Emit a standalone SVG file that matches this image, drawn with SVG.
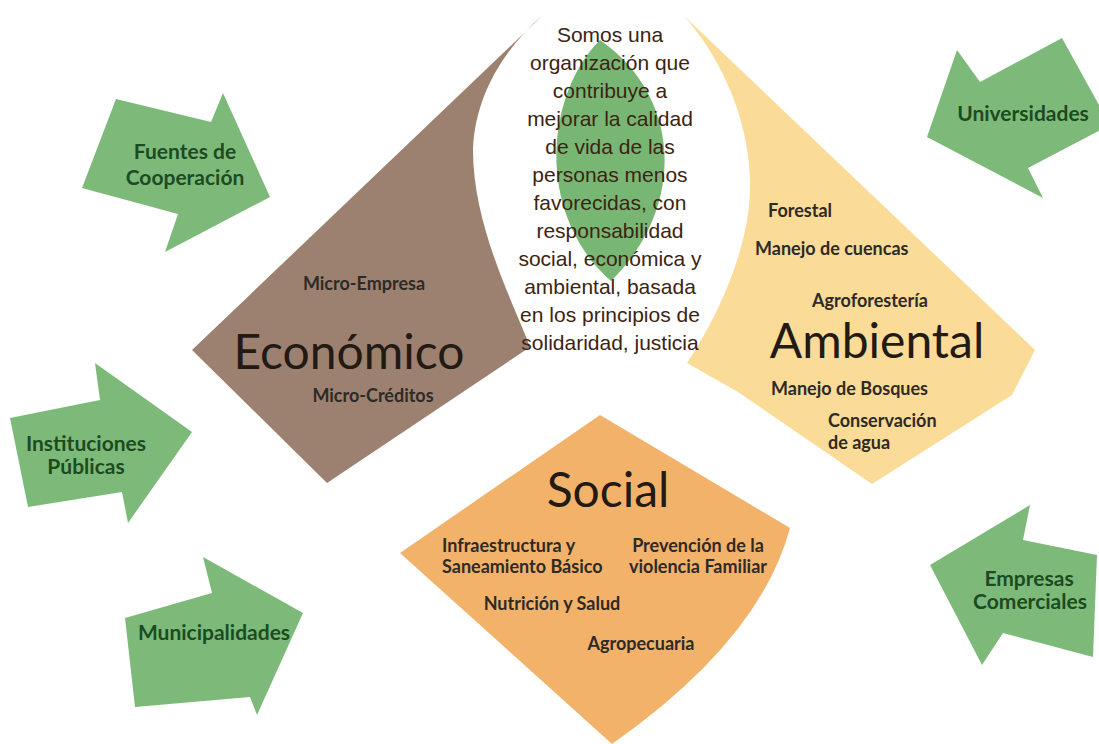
<svg xmlns="http://www.w3.org/2000/svg" width="1099" height="744" viewBox="0 0 1099 744">
<style>
.arrow{fill:#7DBA7A}
.alab{font-family:Lato,"Liberation Sans",sans-serif;font-weight:bold;font-size:21px;fill:#1D4B21;text-anchor:middle}
.item{font-family:Lato,"Liberation Sans",sans-serif;font-weight:bold;font-size:18px;fill:#2E2A26}
.title{font-family:Lato,"Liberation Sans",sans-serif;font-size:48px;fill:#231A14;text-anchor:middle}
.center{font-family:"Liberation Sans",Arial,sans-serif;font-size:21px;fill:#3C2412;text-anchor:middle}
</style>
<rect width="1099" height="744" fill="#FFFFFF"/>
<g id="economico">
<path d="M543,15 L192,350 L327,483 L530,347 C512,300 473,225 473,150 C475,92 508,45 543,15 Z" fill="#9D8170"/>
<text class="item" x="364" y="290" text-anchor="middle">Micro-Empresa</text>
<text class="title" x="349" y="369">Económico</text>
<text class="item" x="373" y="402" text-anchor="middle">Micro-Créditos</text>
</g>
<g id="ambiental">
<path d="M683,15 L1035,350 L1012,395 L872,484 L738,392 L687,363 C722,310 752,240 750,180 C748,110 715,50 683,15 Z" fill="#FADB98"/>
<text class="item" x="768" y="217">Forestal</text>
<text class="item" x="755" y="255">Manejo de cuencas</text>
<text class="item" x="870" y="307" text-anchor="middle">Agroforestería</text>
<text class="title" x="877" y="358">Ambiental</text>
<text class="item" x="771" y="395">Manejo de Bosques</text>
<text class="item" x="828" y="427">Conservación</text>
<text class="item" x="828" y="449">de agua</text>
</g>
<g id="social">
<path d="M600,415 L790,528 Q760,640 612,744 L400,553 Z" fill="#F3B26A"/>
<text class="title" x="608" y="507">Social</text>
<text class="item" x="442" y="552">Infraestructura y</text>
<text class="item" x="442" y="573">Saneamiento Básico</text>
<text class="item" x="698" y="552" text-anchor="middle">Prevención de la</text>
<text class="item" x="698" y="573" text-anchor="middle">violencia Familiar</text>
<text class="item" x="552" y="610" text-anchor="middle">Nutrición y Salud</text>
<text class="item" x="641" y="650" text-anchor="middle">Agropecuaria</text>
</g>
<g id="mision">
<path d="M600,40 C545,95 535,215 611,281 C688,205 680,95 600,40 Z" fill="#78B674"/>
<text class="center" x="610" y="42">Somos una</text>
<text class="center" x="610" y="70">organización que</text>
<text class="center" x="610" y="98">contribuye a</text>
<text class="center" x="610" y="126">mejorar la calidad</text>
<text class="center" x="610" y="154">de vida de las</text>
<text class="center" x="610" y="182">personas menos</text>
<text class="center" x="610" y="210">favorecidas, con</text>
<text class="center" x="610" y="238">responsabilidad</text>
<text class="center" x="610" y="266">social, económica y</text>
<text class="center" x="610" y="294">ambiental, basada</text>
<text class="center" x="610" y="322">en los principios de</text>
<text class="center" x="610" y="350">solidaridad, justicia</text>
</g>
<g id="fuentes">
<polygon class="arrow" points="116,99 211,122 223,93 270,197 165,252 178,214 82,188"/>
<text class="alab" x="185" y="159">Fuentes de</text>
<text class="alab" x="185" y="185">Cooperación</text>
</g>
<g id="instituciones">
<polygon class="arrow" points="10,418 100,400 95,363 192,432 128,523 122,492 28,507"/>
<text class="alab" x="86" y="451">Instituciones</text>
<text class="alab" x="86" y="474">Públicas</text>
</g>
<g id="municipalidades">
<polygon class="arrow" points="125,618 212,593 203,557 303,613 257,715 250,697 135,707"/>
<text class="alab" x="214" y="640">Municipalidades</text>
</g>
<g id="universidades">
<polygon class="arrow" points="927,137 957,50 980,82 1062,38 1110,125 1028,168 1043,198"/>
<text class="alab" x="1023" y="121">Universidades</text>
</g>
<g id="empresas">
<polygon class="arrow" points="930,565 1030,505 1023,540 1097,555 1093,657 1003,633 982,665"/>
<text class="alab" x="1029" y="586">Empresas</text>
<text class="alab" x="1030" y="609">Comerciales</text>
</g>
<g id="connectors"></g>
</svg>
